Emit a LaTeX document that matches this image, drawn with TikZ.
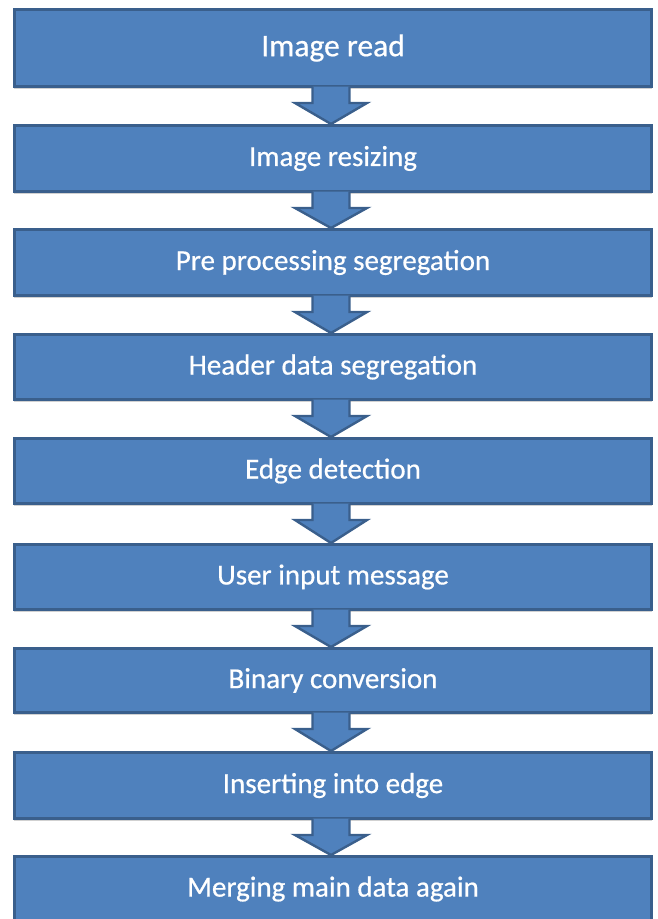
\documentclass[tikz,border=0pt]{standalone}
\usepackage{fontspec}
\setmainfont[FakeBold=0.6]{Carlito}
\usetikzlibrary{calc,shadows}
\definecolor{boxfill}{HTML}{4F81BD}
\definecolor{boxline}{HTML}{3A5F8C}
\begin{document}
\begin{tikzpicture}[x=1pt,y=-1pt,
  stepbox/.style={draw=boxline, line width=2.6pt, fill=boxfill,
    minimum width=637.4pt, inner sep=0pt, text=white,
    font=\fontsize{29}{34}\selectfont,
    drop shadow={shadow xshift=0pt, shadow yshift=-2.5pt, fill=black!30, opacity=0.6}},
  blockarrow/.style={fill=boxfill, draw=boxline, line width=2.4pt, line join=miter}]
\useasboundingbox (0,0) rectangle (657,919);
\clip (0,0) rectangle (657,919);

% process steps
\node[stepbox, minimum height=77.4pt, font=\fontsize{31.5}{36}\selectfont] (n1) at (333,48) {\raisebox{3pt}{Image read}};
\node[stepbox, minimum height=66.4pt] (n2) at (333,158.5) {Image resizing};
\node[stepbox, minimum height=66.4pt] (n3) at (333,262.5) {Pre processing segregation};
\node[stepbox, minimum height=65.4pt] (n4) at (333,367) {Header data segregation};
\node[stepbox, minimum height=65.4pt] (n5) at (333,471) {Edge detection};
\node[stepbox, minimum height=65.4pt] (n6) at (333,577) {User input message};
\node[stepbox, minimum height=64.4pt] (n7) at (333,680.5) {Binary conversion};
\node[stepbox, minimum height=66.4pt] (n8) at (333,785.5) {Inserting into edge};
\node[stepbox, minimum height=65.4pt] (n9) at (333,889) {Merging main data again};

% block arrows between consecutive steps
\foreach \a/\b in {n1/n2,n2/n3,n3/n4,n4/n5,n5/n6,n6/n7,n7/n8,n8/n9}{
  \filldraw[blockarrow] let \p1=(\a.south), \p2=(\b.north) in
    (\x1-20.5pt,\y1+1.5pt) -- (\x1-20.5pt,\y1-15pt) -- (\x1-38pt,\y1-15pt)
    -- (\x1-2pt,\y2) -- (\x1+34pt,\y1-15pt) -- (\x1+16.5pt,\y1-15pt)
    -- (\x1+16.5pt,\y1+1.5pt);
}
\end{tikzpicture}
\end{document}
